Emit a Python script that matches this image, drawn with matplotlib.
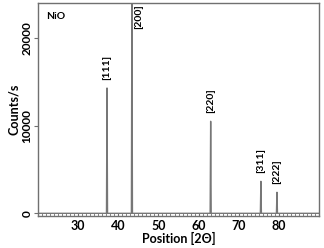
import matplotlib
matplotlib.use('Agg')
import matplotlib.pyplot as plt
from matplotlib.ticker import MultipleLocator

# NiO XRD peaks
peak_pos = [37.2, 43.4, 63.0, 75.5, 79.5]
peak_height = [14300, 26000, 10500, 3650, 2400]
peak_label = ['[111]', '[200]', '[220]', '[311]', '[222]']
xticks = [30, 40, 50, 60, 70, 80]
yticks = [0, 10000, 20000]

plt.rcParams['font.family'] = ['Lato', 'DejaVu Sans']
plt.rcParams['font.weight'] = 'bold'

gray = '#707070'

fig = plt.figure(figsize=(3.24, 2.48), dpi=100)
ax = fig.add_axes([0.117, 0.131, 0.868, 0.857])

# build the pattern: baseline with narrow triangular peaks
xs = [20.0]
ys = [0.0]
for p, h in zip(peak_pos, peak_height):
	xs += [p - 0.13, p, p + 0.13]
	ys += [0, h, 0]
xs.append(90.0)
ys.append(0.0)
ax.plot(xs, ys, color='#777777', lw=1.0)

for p, h, lab in zip(peak_pos, peak_height, peak_label):
	if h > 24000:
		ax.text(p + 0.6, 23800, lab, rotation=90, fontsize=7.5, fontweight='bold', ha='left', va='top')
	else:
		ax.text(p, h + 900, lab, rotation=90, fontsize=7.5, fontweight='bold', ha='center', va='bottom')

ax.text(22, 23000, 'NiO', fontsize=7.5, fontweight='bold', ha='left', va='top')

ax.set_xlim(20, 90)
ax.set_ylim(-250, 24000)
ax.set_xticks(xticks)
ax.set_yticks(yticks)
ax.xaxis.set_minor_locator(MultipleLocator(1))
ax.tick_params(axis='x', which='major', direction='in', length=2.5, labelsize=9, color=gray, pad=3)
ax.tick_params(axis='x', which='minor', direction='in', length=2, color=gray)
ax.tick_params(axis='y', direction='out', length=3, labelsize=8.5, color=gray, pad=1)
for t in ax.get_yticklabels():
	t.set_rotation(90)
	t.set_va('center')
for t in ax.get_xticklabels() + ax.get_yticklabels():
	t.set_fontweight('bold')
for s in ax.spines.values():
	s.set_color(gray)
	s.set_linewidth(1.0)

ax.set_xlabel('Position [2Θ]', fontsize=9, fontweight='bold', labelpad=0)
ax.set_ylabel('Counts/s', fontsize=9, fontweight='bold', labelpad=1)

fig.savefig('out.png', dpi=100)
